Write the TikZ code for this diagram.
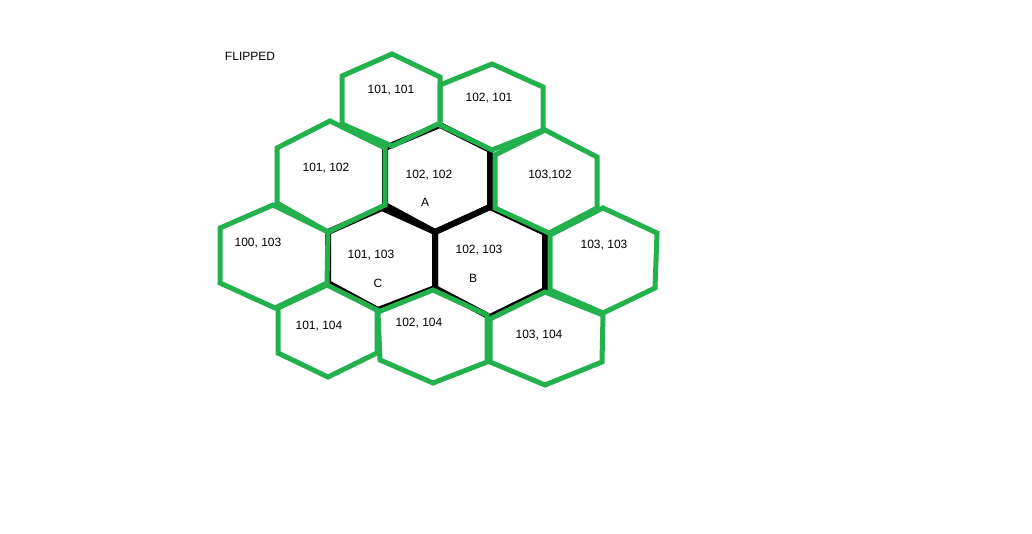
\documentclass[tikz,border=0pt]{standalone}
\usepackage{fontspec}
\setmainfont{Liberation Sans}
\definecolor{paintgreen}{HTML}{22B14C}
\begin{document}
\begin{tikzpicture}[x=1pt,y=-1pt,
  blackhex/.style={draw=black,line width=6pt,line join=miter},
  greenhex/.style={draw=paintgreen,line width=5pt,line join=miter},
  lbl/.style={font=\fontsize{12}{14}\selectfont,text=black,inner sep=0pt}]
\useasboundingbox[fill=white] (0,0) rectangle (1032,534);
% black hexes (A, C, B)
\draw[blackhex] (440,125)--(490,150)--(490,207)--(435,232)--(385,205)--(385,148)--cycle;
\draw[blackhex] (382,208)--(435,232)--(435,288)--(378,310)--(328,283)--(328,232)--cycle;
\draw[blackhex] (490,207)--(545,233)--(545,290)--(490,317)--(435,288)--(435,232)--cycle;
% green hexes
\draw[greenhex] (392,54)--(440,77)--(440,123)--(392,146)--(342,124)--(342,76)--cycle;
\draw[greenhex] (492,64)--(543,87)--(543,130)--(492,150)--(440,125)--(440,85)--cycle;
\draw[greenhex] (330,121)--(385,148)--(385,205)--(328,232)--(277,203)--(277,148)--cycle;
\draw[greenhex] (545,130)--(597,157)--(597,208)--(549,233)--(495,208)--(495,155)--cycle;
\draw[greenhex] (273,205)--(328,232)--(327,283)--(275,308)--(220,283)--(220,228)--cycle;
\draw[greenhex] (603,208)--(657,233)--(655,288)--(603,313)--(550,290)--(550,235)--cycle;
\draw[greenhex] (327,285)--(377,310)--(377,353)--(328,377)--(278,353)--(278,308)--cycle;
\draw[greenhex] (433,290)--(487,315)--(487,362)--(433,383)--(380,360)--(378,312)--cycle;
\draw[greenhex] (545,292)--(603,315)--(602,362)--(545,385)--(490,362)--(490,319)--cycle;
% labels
\node[lbl] (title) at (250,56) {FLIPPED};
\node[lbl] (h1) at (391,90) {101, 101};
\node[lbl] (h2) at (489,98) {102, 101};
\node[lbl] (h3) at (326,168) {101, 102};
\node[lbl] (h4) at (429,175) {102, 102};
\node[lbl] (h5) at (550,175) {103,102};
\node[lbl] (h6) at (258,243) {100, 103};
\node[lbl] (h7) at (371,255) {101, 103};
\node[lbl] (h8) at (479,250) {102, 103};
\node[lbl] (h9) at (604,245) {103, 103};
\node[lbl] (h10) at (319,326) {101, 104};
\node[lbl] (h11) at (419,323) {102, 104};
\node[lbl] (h12) at (539,335) {103, 104};
\node[lbl] (lA) at (425,202) {A};
\node[lbl] (lC) at (378,283) {C};
\node[lbl] (lB) at (473,278) {B};
\end{tikzpicture}
\end{document}
